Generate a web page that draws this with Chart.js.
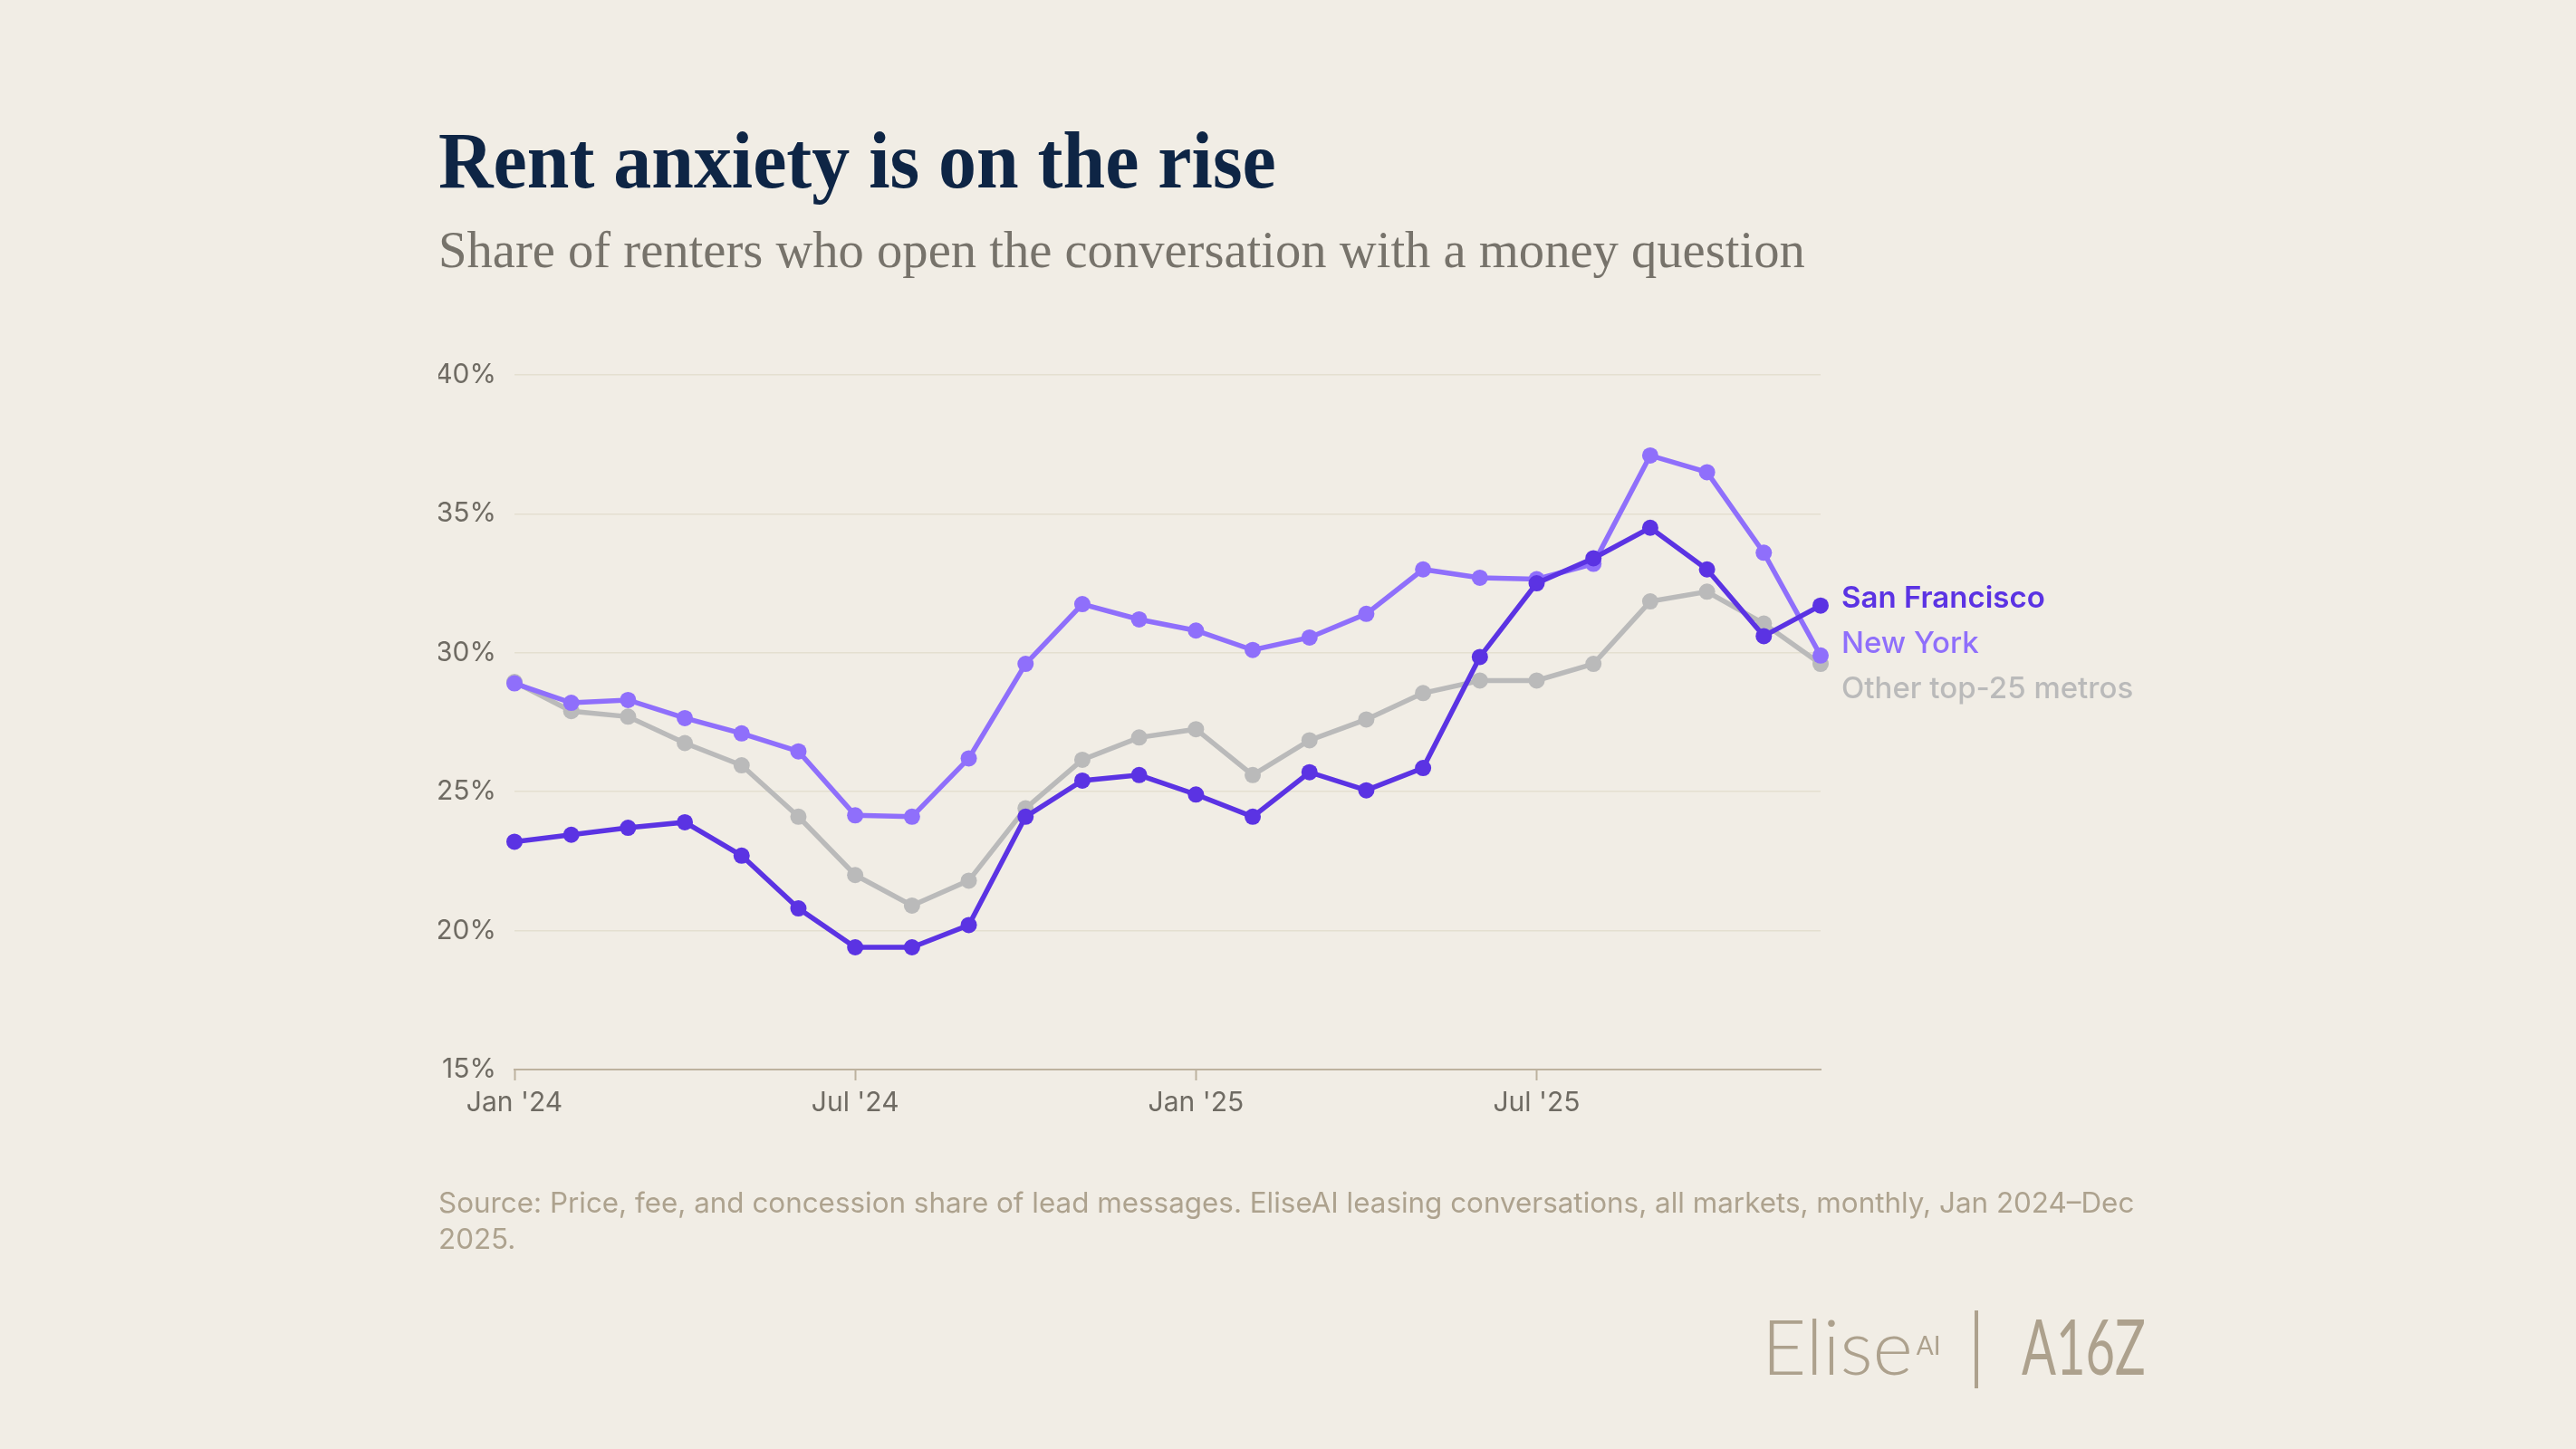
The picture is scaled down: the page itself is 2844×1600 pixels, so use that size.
<!DOCTYPE html>
<html>
<head>
<meta charset="utf-8">
<title>Rent anxiety is on the rise</title>
<script src="https://cdn.jsdelivr.net/npm/chart.js@4.4.1/dist/chart.umd.min.js"></script>
<style>
  html, body { margin: 0; padding: 0; background: #F1EDE5; }
  #page { position: relative; width: 2844px; height: 1600px; overflow: hidden; background: #F1EDE5; }
  #chart-wrap { position: absolute; left: 0; top: 0; width: 2844px; height: 1600px; }
  .title {
    position: absolute; left: 484px; top: 134px; margin: 0;
    font-family: "Liberation Serif", serif; font-weight: 700; font-size: 88px; line-height: 1;
    color: #0E2545; white-space: nowrap;
    transform: scaleX(0.953); transform-origin: left top;
  }
  .subtitle {
    position: absolute; left: 484px; top: 248px; margin: 0;
    font-family: "Liberation Serif", serif; font-weight: 400; font-size: 56.6px; line-height: 1;
    color: #77736B; white-space: nowrap;
  }
  .source {
    position: absolute; left: 484px; top: 1308px;
    font-family: "Inter", sans-serif; font-size: 31.4px; line-height: 40px;
    color: #ADA28E; white-space: nowrap;
  }
  .logo { position: absolute; color: #ADA18D; line-height: 1; white-space: nowrap; }
  .elise { left: 1945px; top: 1443px; font-family: "Lato", sans-serif; font-weight: 300; font-size: 85px; }
  .elise sup { font-size: 28px; font-weight: 400; vertical-align: 0; position: relative; top: -22px; margin-left: 4px; }
  .divider { position: absolute; left: 2180px; top: 1447px; width: 4px; height: 86px; background: #ADA18D; }
  .a16z { left: 2232px; top: 1443px; font-family: "Lato", sans-serif; font-weight: 400; font-size: 85px;
          transform: scaleX(0.66); transform-origin: left top; }
</style>
</head>
<body>
<div id="page">
  <div id="chart-wrap"><canvas id="rentChart"></canvas></div>
  <h1 class="title">Rent anxiety is on the rise</h1>
  <h2 class="subtitle">Share of renters who open the conversation with a money question</h2>
  <div class="source">Source: Price, fee, and concession share of lead messages. EliseAI leasing conversations, all markets, monthly, Jan 2024–Dec<br>2025.</div>
  <div class="logo elise">Elise<sup>AI</sup></div>
  <div class="divider"></div>
  <div class="logo a16z">A16Z</div>
</div>

<script>
// monthly, Jan 2024 - Dec 2025
const months = [
  'Jan 2024', 'Feb 2024', 'Mar 2024', 'Apr 2024', 'May 2024', 'Jun 2024',
  'Jul 2024', 'Aug 2024', 'Sep 2024', 'Oct 2024', 'Nov 2024', 'Dec 2024',
  'Jan 2025', 'Feb 2025', 'Mar 2025', 'Apr 2025', 'May 2025', 'Jun 2025',
  'Jul 2025', 'Aug 2025', 'Sep 2025', 'Oct 2025', 'Nov 2025', 'Dec 2025'
];
const xTickLabels = ["Jan '24", "Jul '24", "Jan '25", "Jul '25"];

// share of lead messages opening with a money question (%)
const sanFrancisco = [23.2, 23.45, 23.7, 23.9, 22.7, 20.8, 19.4, 19.4, 20.2, 24.1, 25.4, 25.6,
                      24.9, 24.1, 25.7, 25.05, 25.85, 29.85, 32.5, 33.4, 34.5, 33.0, 30.6, 31.7];
const newYork = [28.9, 28.2, 28.3, 27.65, 27.1, 26.45, 24.15, 24.1, 26.2, 29.6, 31.75, 31.2,
                 30.8, 30.1, 30.55, 31.4, 33.0, 32.7, 32.65, 33.2, 37.1, 36.5, 33.6, 29.9];
const otherMetros = [28.95, 27.9, 27.7, 26.75, 25.95, 24.1, 22.0, 20.9, 21.8, 24.4, 26.15, 26.95,
                     27.25, 25.6, 26.85, 27.6, 28.55, 29.0, 29.0, 29.6, 31.85, 32.2, 31.05, 29.6];

const seriesNames = ['San Francisco', 'New York', 'Other top-25 metros'];
const seriesColors = ['#5B33E3', '#8F6FFB', '#BABABA'];
const labelWeights = [600, 500, 500];

function toPoints(values) {
  return values.map((v, i) => ({ x: i, y: v }));
}

// draws the series names next to the last point, pushed apart so they don't collide
const endLabels = {
  id: 'endLabels',
  afterDatasetsDraw(chart) {
    const ctx = chart.ctx;
    const items = chart.data.datasets.map((ds, i) => {
      const meta = chart.getDatasetMeta(i);
      const last = meta.data[meta.data.length - 1];
      return { i, x: last.x, y: last.y };
    });
    items.sort((a, b) => a.y - b.y);
    const gap = 50;
    for (let k = 0; k < 60; k++) {
      for (let j = 1; j < items.length; j++) {
        const d = items[j].y - items[j - 1].y;
        if (d < gap) {
          const s = (gap - d) / 2;
          items[j - 1].y -= s;
          items[j].y += s;
        }
      }
    }
    ctx.save();
    ctx.textAlign = 'left';
    ctx.textBaseline = 'middle';
    items.forEach(it => {
      ctx.font = labelWeights[it.i] + ' 33px Inter';
      ctx.fillStyle = seriesColors[it.i];
      ctx.fillText(seriesNames[it.i], it.x + 23, it.y + 3);
    });
    ctx.restore();
  }
};

const tickFont = { family: 'Inter', size: 30 };
const tickColor = '#6F6B63';

const chart = new Chart(document.getElementById('rentChart'), {
  type: 'line',
  data: {
    datasets: [
      { label: seriesNames[0], data: toPoints(sanFrancisco) },
      { label: seriesNames[1], data: toPoints(newYork) },
      { label: seriesNames[2], data: toPoints(otherMetros) }
    ].map((ds, i) => Object.assign(ds, {
      borderColor: seriesColors[i],
      backgroundColor: seriesColors[i],
      borderWidth: 5.5,
      pointRadius: 9,
      pointHoverRadius: 9,
      pointBorderWidth: 0,
      tension: 0,
      clip: false
    }))
  },
  options: {
    responsive: true,
    maintainAspectRatio: false,
    animation: false,
    layout: { padding: { left: 484, right: 834, top: 414, bottom: 0 } },
    plugins: {
      legend: { display: false },
      tooltip: { enabled: false }
    },
    scales: {
      x: {
        type: 'linear',
        min: 0,
        max: 23,
        afterFit: (s) => { s.height = 419; },
        grid: { drawOnChartArea: false, drawTicks: true, tickLength: 12, tickColor: '#BDB29F', tickWidth: 2 },
        border: { display: true, color: '#BDB29F', width: 2 },
        ticks: {
          stepSize: 6,
          includeBounds: false,
          autoSkip: false,
          maxRotation: 0,
          padding: 7,
          color: tickColor,
          font: tickFont,
          callback: (v) => xTickLabels[v / 6]
        }
      },
      y: {
        min: 15,
        max: 40,
        afterFit: (s) => { s.width = 84; },
        grid: {
          color: (c) => c.tick && c.tick.value === 15 ? 'rgba(0,0,0,0)' : '#E4DFD0',
          lineWidth: 1.5,
          drawTicks: false
        },
        border: { display: false },
        ticks: {
          stepSize: 5,
          padding: 20,
          color: tickColor,
          font: tickFont,
          callback: (v) => v + '%'
        }
      }
    }
  },
  plugins: [endLabels]
});
</script>
</body>
</html>
